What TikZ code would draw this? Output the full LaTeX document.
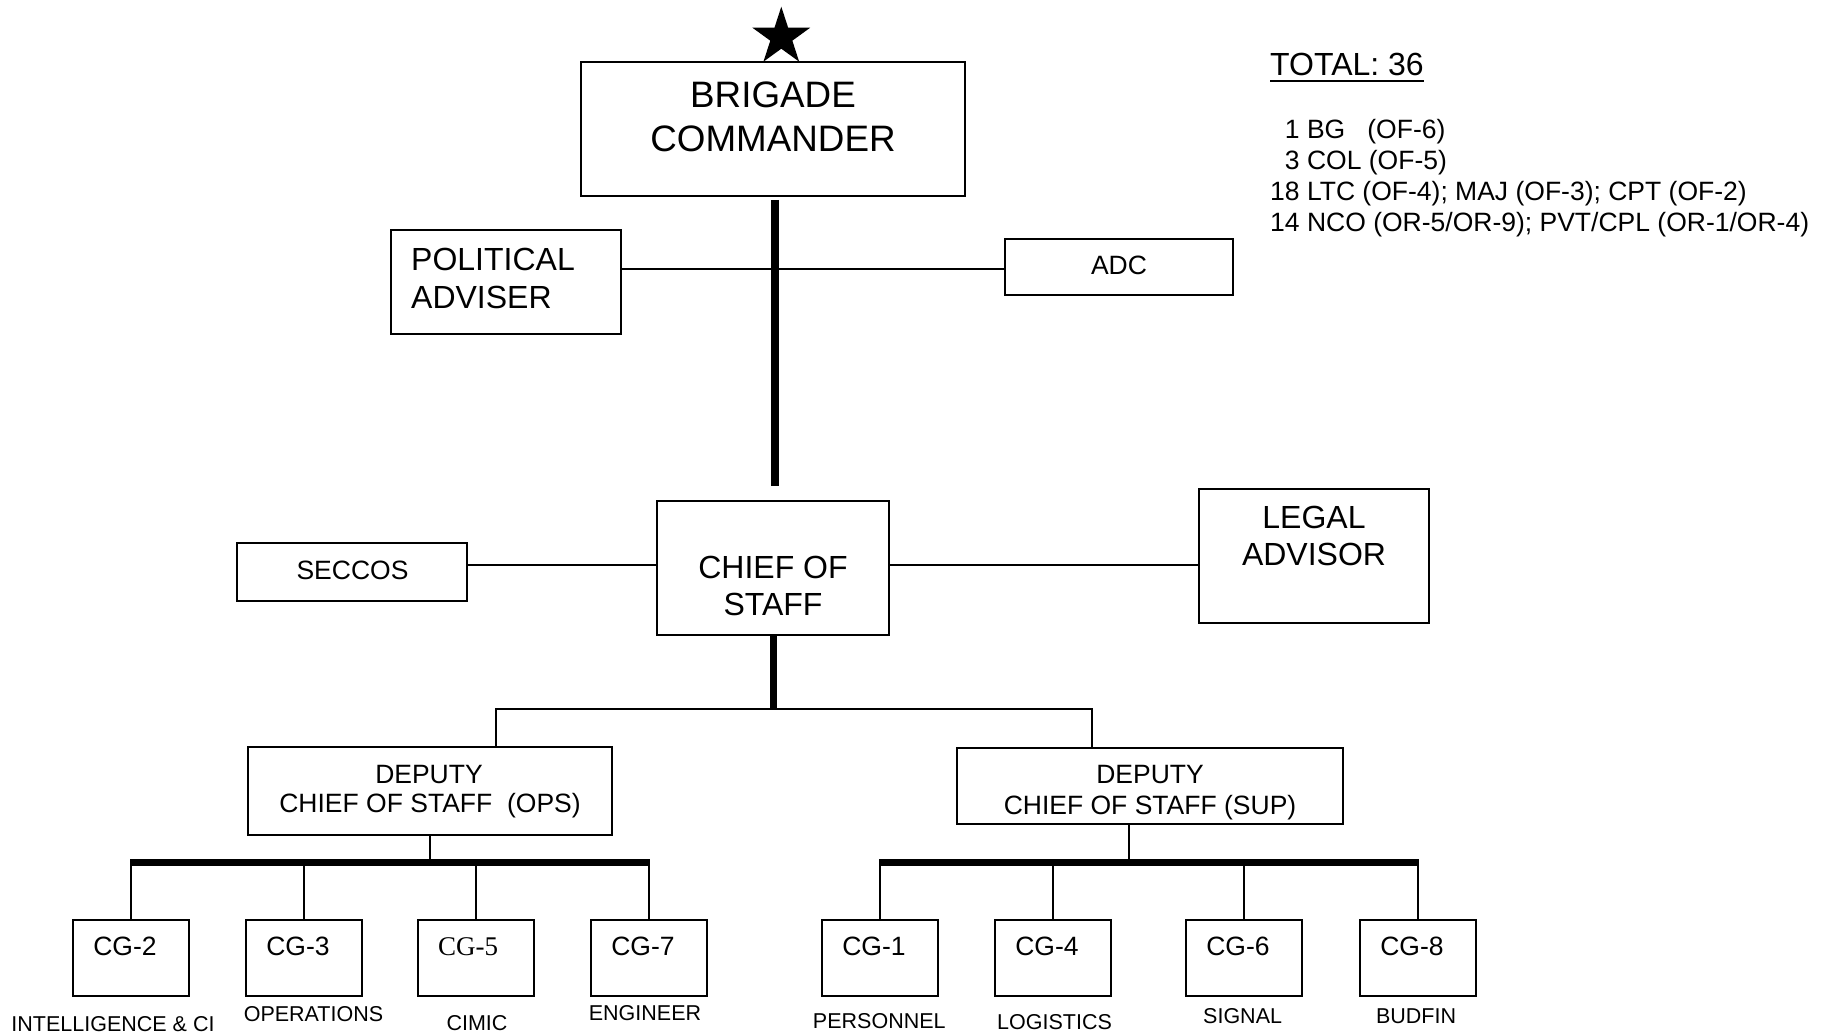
\documentclass[tikz,border=0pt]{standalone}
\usepackage{fontspec}
\setmainfont{Liberation Sans}
\newfontfamily\serifcg{Liberation Serif}
\usetikzlibrary{shapes.geometric}
\begin{document}
\begin{tikzpicture}[x=1pt,y=-1pt,
  orgbox/.style={draw, line width=2pt, inner sep=0pt},
  conn/.style={line width=2pt},
  heavy/.style={line width=#1},
  txt/.style={anchor=base, inner sep=0pt},
  big/.style={font=\fontsize{36.8}{40}\selectfont},
  mid/.style={font=\fontsize{32}{37}\selectfont},
  sml/.style={font=\fontsize{26.5}{30}\selectfont},
  lbl/.style={font=\fontsize{21.5}{25}\selectfont}]
\useasboundingbox (0,0) rectangle (1836,1032);
\fill[white] (0,0) rectangle (1836,1032);

% ---------- boxes ----------
\node[orgbox, minimum width=384pt, minimum height=134pt] (bc) at (773,129) {};
\node[orgbox, minimum width=230pt, minimum height=104pt] (pol) at (506,282) {};
\node[orgbox, minimum width=228pt, minimum height=56pt] (adc) at (1119,267) {};
\node[orgbox, minimum width=232pt, minimum height=134pt] (cos) at (773,568) {};
\node[orgbox, minimum width=230pt, minimum height=58pt] (sec) at (352,572) {};
\node[orgbox, minimum width=230pt, minimum height=134pt] (leg) at (1314,556) {};
\node[orgbox, minimum width=364pt, minimum height=88pt] (dops) at (430,791) {};
\node[orgbox, minimum width=386pt, minimum height=76pt] (dsup) at (1150,786) {};
\foreach \n/\x in {cg2/131,cg3/304,cg5/476,cg7/649,cg1/880,cg4/1053,cg6/1244,cg8/1418}
  \node[orgbox, minimum width=116pt, minimum height=76pt] (\n) at (\x,958) {};

% star
\node[star, star points=5, star point ratio=2.618, fill=black, draw=none,
      minimum size=60.8pt, inner sep=0pt] (star) at (781.3,37.1) {};

% ---------- texts ----------
\node[txt,big] (bct1) at (773,108) {BRIGADE};
\node[txt,big] (bct2) at (773,151.5) {COMMANDER};
\node[txt,mid,anchor=base west] (polt1) at (411,270.5) {POLITICAL};
\node[txt,mid,anchor=base west] (polt2) at (411,308.5) {ADVISER};
\node[txt,sml] (adct) at (1119,274.3) {ADC};
\node[txt,mid] (cost1) at (773,578.3) {CHIEF OF};
\node[txt,mid] (cost2) at (773,615) {STAFF};
\node[txt,sml] (sect) at (352.5,579) {SECCOS};
\node[txt,mid] (legt1) at (1314,528.3) {LEGAL};
\node[txt,mid] (legt2) at (1314,565) {ADVISOR};
\node[txt,sml] (dopst1) at (429,783.5) {DEPUTY};
\node[txt,sml] (dopst2) at (430,812) {CHIEF OF STAFF\ \ (OPS)};
\node[txt,sml] (dsupt1) at (1150,783.5) {DEPUTY};
\node[txt,sml] (dsupt2) at (1150,814) {CHIEF OF STAFF (SUP)};

\node[txt,sml] (cg2t) at (125,955) {CG-2};
\node[txt,sml] (cg3t) at (298,955) {CG-3};
\node[txt,font=\serifcg\fontsize{27}{30}\selectfont] (cg5t) at (468,955) {CG-5};
\node[txt,sml] (cg7t) at (643,955) {CG-7};
\node[txt,sml] (cg1t) at (874,955) {CG-1};
\node[txt,sml] (cg4t) at (1047,955) {CG-4};
\node[txt,sml] (cg6t) at (1238,955) {CG-6};
\node[txt,sml] (cg8t) at (1412,955) {CG-8};

\node[txt,lbl] (l2) at (113,1031) {INTELLIGENCE \& CI};
\node[txt,lbl] (l3) at (313.5,1021.5) {OPERATIONS};
\node[txt,lbl] (l5) at (477,1030) {CIMIC};
\node[txt,lbl] (l7) at (645,1020.5) {ENGINEER};
\node[txt,lbl] (l1) at (879.3,1028.5) {PERSONNEL};
\node[txt,lbl] (l4) at (1054.5,1029) {LOGISTICS};
\node[txt,lbl] (l6) at (1242.6,1023) {SIGNAL};
\node[txt,lbl] (l8) at (1416,1023.5) {BUDFIN};

% totals
\node[txt,anchor=base west,font=\fontsize{32}{35}\selectfont] (tot) at (1270,76) {TOTAL: 36};
\coordinate (ul1) at (1270,81);
\coordinate (ul2) at (tot.base east |- ul1);
\draw[line width=2.5pt] (ul1) -- (ul2);
\node[txt,sml,anchor=base west] (r1) at (1270,139) {\phantom{0}1 BG\ \ \ (OF-6)};
\node[txt,sml,anchor=base west] (r2) at (1270,170) {\phantom{0}3 COL (OF-5)};
\node[txt,sml,anchor=base west] (r3) at (1270,200.5) {18 LTC (OF-4); MAJ (OF-3); CPT (OF-2)};
\node[txt,sml,anchor=base west] (r4) at (1270,231.5) {14 NCO (OR-5/OR-9); PVT/CPL (OR-1/OR-4)};

% ---------- connectors ----------
\coordinate (t1a) at (775,200);
\coordinate (t1b) at (775,486);
\draw[heavy=8pt] (t1a) -- (t1b);
\coordinate (h1) at (0,269);
\draw[conn] (pol.east |- h1) -- (adc.west |- h1);

\coordinate (h2) at (0,565);
\draw[conn] (sec.east |- h2) -- (cos.west |- h2);
\draw[conn] (cos.east |- h2) -- (leg.west |- h2);

\coordinate (j2) at (773,709);
\draw[heavy=7pt] (cos.south) -- (j2);
\coordinate (dL) at (496,709);
\coordinate (dR) at (1092,709);
\draw[conn] (dops.north -| dL) -- (dL) -- (dR) -- (dsup.north -| dR);

\coordinate (bL1) at (130,862.5);
\coordinate (bL2) at (650,862.5);
\coordinate (bR1) at (879,862.5);
\coordinate (bR2) at (1419,862.5);
\draw[heavy=7pt] (bL1) -- (bL2);
\draw[heavy=7pt] (bR1) -- (bR2);
\draw[conn] (dops.south) -- (dops.south |- bL1);
\coordinate (sR) at (1129,862.5);
\draw[conn] (sR |- dsup.south) -- (sR);
\foreach \n in {cg2,cg3,cg5,cg7}
  \draw[conn] (\n.north) -- (\n.north |- bL1);
\foreach \n in {cg1,cg4,cg6,cg8}
  \draw[conn] (\n.north) -- (\n.north |- bR1);
\end{tikzpicture}
\end{document}
